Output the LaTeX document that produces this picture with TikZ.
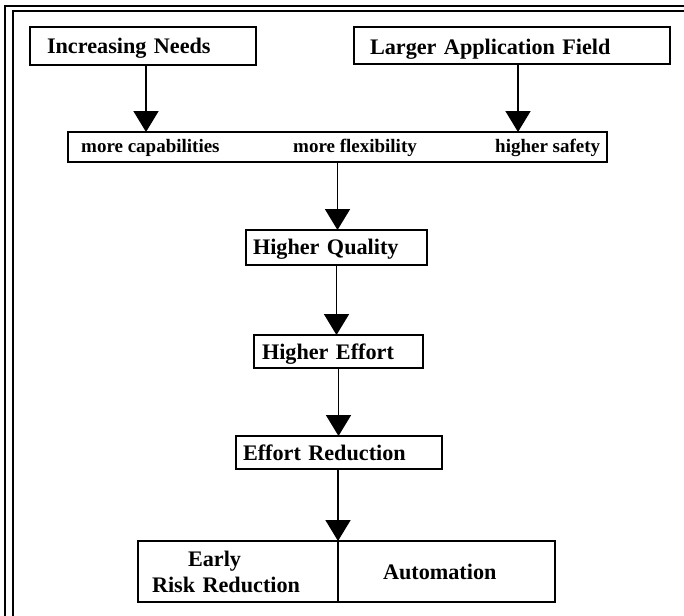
\documentclass[tikz,border=0pt]{standalone}
\usepackage{fontspec}
\setmainfont{Liberation Serif}
\usetikzlibrary{arrows.meta}
\newcommand{\bigtxt}{\fontsize{22.2}{26}\selectfont\bfseries}
\newcommand{\smalltxt}{\fontsize{19}{22}\selectfont\bfseries}
\begin{document}
\begin{tikzpicture}[x=1pt, y=-1pt,
  box/.style={draw, line width=2pt, rectangle, inner ysep=0pt, align=left, font=\bigtxt, outer sep=0pt},
  plain/.style={rectangle, inner ysep=0pt, align=left, font=\bigtxt, outer sep=0pt},
  tag/.style={anchor=base west, inner sep=0pt, font=\smalltxt},
  frameline/.style={line width=2pt, line join=miter},
  shaft/.style={line width=1.8pt},
  arr/.style={shaft, -{Triangle[width=25pt, length=21pt]}}]
\useasboundingbox (0,0) rectangle (684,615);

% double frame, left and top sides
\draw[frameline] (5,620) -- (5,6.5) -- (690,6.5);
\draw[frameline] (13,620) -- (13,11) -- (690,11);

% sources
\node[box, minimum width=226pt, minimum height=38pt, inner xsep=17pt, text width=192pt,
      text height=17pt, text depth=1pt] (needs) at (143,46) {Increasing Needs};
\node[box, minimum width=316pt, minimum height=37pt, inner xsep=16pt, text width=284pt,
      text height=19pt, text depth=0pt] (field) at (512,45.5) {Larger Application Field};

% requirements bar
\node[box, minimum width=539pt, minimum height=30pt, inner xsep=0pt] (req) at (337.5,147) {};
\node[tag] (capab) at (81,152) {more capabilities};
\node[tag] (flex) at (293,152) {more flexibility};
\node[tag] (safety) at (495,152) {higher safety};

% chain
\node[box, minimum width=181pt, minimum height=35pt, inner xsep=7pt, text width=167pt,
      text height=15pt, text depth=2pt] (quality) at (336.5,247.5) {Higher Quality};
\node[box, minimum width=169pt, minimum height=33pt, inner xsep=8pt, text width=153pt,
      text height=16pt, text depth=1pt] (effort) at (338.5,351.5) {Higher Effort};
\node[box, minimum width=206pt, minimum height=33pt, inner xsep=7pt, text width=192pt,
      text height=16pt, text depth=1pt] (reduce) at (339,452.5) {Effort Reduction};

% split result box
\node[plain, minimum width=200pt, minimum height=61pt, inner xsep=14pt, text width=172pt]
      (risk) at (238,571.5) {\hspace*{36pt}Early\\Risk Reduction};
\node[plain, minimum width=217pt, minimum height=61pt, inner xsep=45pt, text width=127pt]
      (auto) at (446.5,571.5) {Automation};
\draw[line width=2pt] (risk.north west) rectangle (auto.south east);
\draw[shaft] (risk.north east) -- ([yshift=1pt]risk.south east);

% connectors
\draw[arr] ([xshift=3pt]needs.south) -- ([xshift=3pt]needs.south |- req.north);
\draw[arr] ([xshift=6pt]field.south) -- ([xshift=6pt]field.south |- req.north);
\draw[arr] (req.south) -- (req.south |- quality.north);
\draw[arr] (quality.south) -- (quality.south |- effort.north);
\draw[arr] (effort.south) -- (effort.south |- reduce.north);
\draw[arr] (risk.north east |- reduce.south) -- (risk.north east);
\end{tikzpicture}
\end{document}
